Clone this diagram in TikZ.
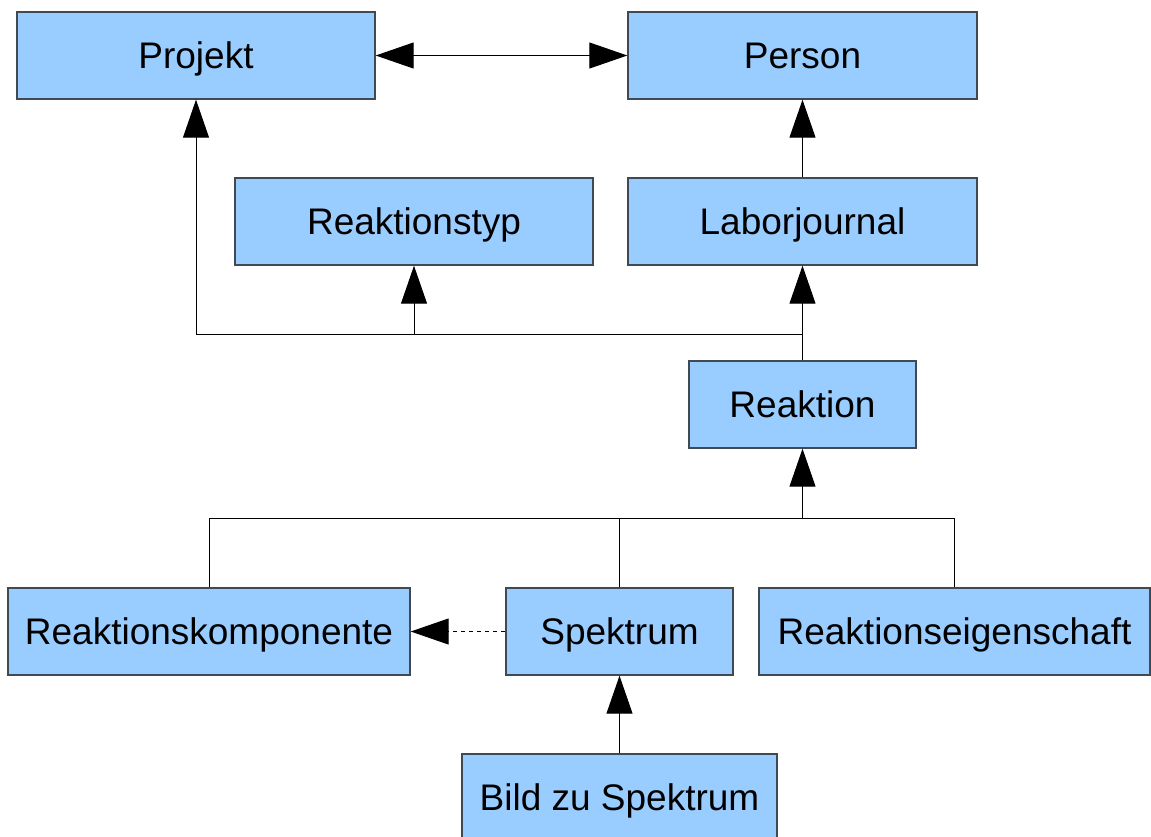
\documentclass[tikz,border=0pt]{standalone}
\usepackage{fontspec}
\setmainfont{Liberation Sans}
\usetikzlibrary{arrows.meta}
\definecolor{boxblau}{HTML}{99CCFF}
\definecolor{boxrand}{HTML}{3F4A55}

\begin{document}
\begin{tikzpicture}[x=0.5pt,y=-0.5pt,
    kasten/.style={draw=boxrand, fill=boxblau, line width=0.7pt, inner sep=0pt,
      minimum height=43.5pt, text height=16.5pt, text depth=3.5pt,
      font=\fontsize{18.5}{22}\selectfont},
    pfeil/.style={-{Triangle[length=19pt,width=13pt]}, line width=0.5pt},
    linie/.style={line width=0.5pt}]
        \useasboundingbox (0,0) rectangle (1151,836);
        % obere Reihe
        \node[kasten, minimum width=179pt] (projekt) at (196,55.5) {Projekt};
        \node[kasten, minimum width=174.5pt] (person) at (802.5,55.5) {Person};
        \node[kasten, minimum width=179pt] (reaktionstyp) at (414,221.5) {Reaktionstyp};
        \node[kasten, minimum width=174.5pt] (laborjournal) at (802.5,221.5) {Laborjournal};
        \node[kasten, minimum width=113.5pt] (reaktion) at (802.5,404.5) {Reaktion};
        % untere Reihe
        \node[kasten, minimum width=201pt] (komponente) at (209,631.5) {Reaktionskomponente};
        \node[kasten, minimum width=113.5pt] (spektrum) at (619.5,631.5) {Spektrum};
        \node[kasten, minimum width=195.5pt] (eigenschaft) at (954.5,631.5) {Reaktionseigenschaft};
        \node[kasten, minimum width=157.5pt] (bild) at (619.5,797.5) {Bild zu Spektrum};
        \coordinate (oben) at (802.5,334);
        \coordinate (unten) at (802.5,518);
        % Verbindungen
        \draw[pfeil, {Triangle[length=19pt,width=13pt]}-{Triangle[length=19pt,width=13pt]}] (projekt) -- (person);
        \draw[pfeil] (laborjournal) -- (person);
        \draw[pfeil] (reaktion.north) -- (laborjournal.south);
        \draw[pfeil] (oben) -| (projekt.south);
        \draw[pfeil] (oben) -| (reaktionstyp.south);
        \draw[pfeil] (unten) -- (reaktion.south);
        \foreach \ziel in {komponente,spektrum,eigenschaft} {
          \draw[linie] (unten) -| (\ziel.north);
        }
        \draw[pfeil, dash pattern=on 2pt off 2pt] (spektrum) -- (komponente);
        \draw[pfeil] (bild) -- (spektrum);
      \end{tikzpicture}
\end{document}
